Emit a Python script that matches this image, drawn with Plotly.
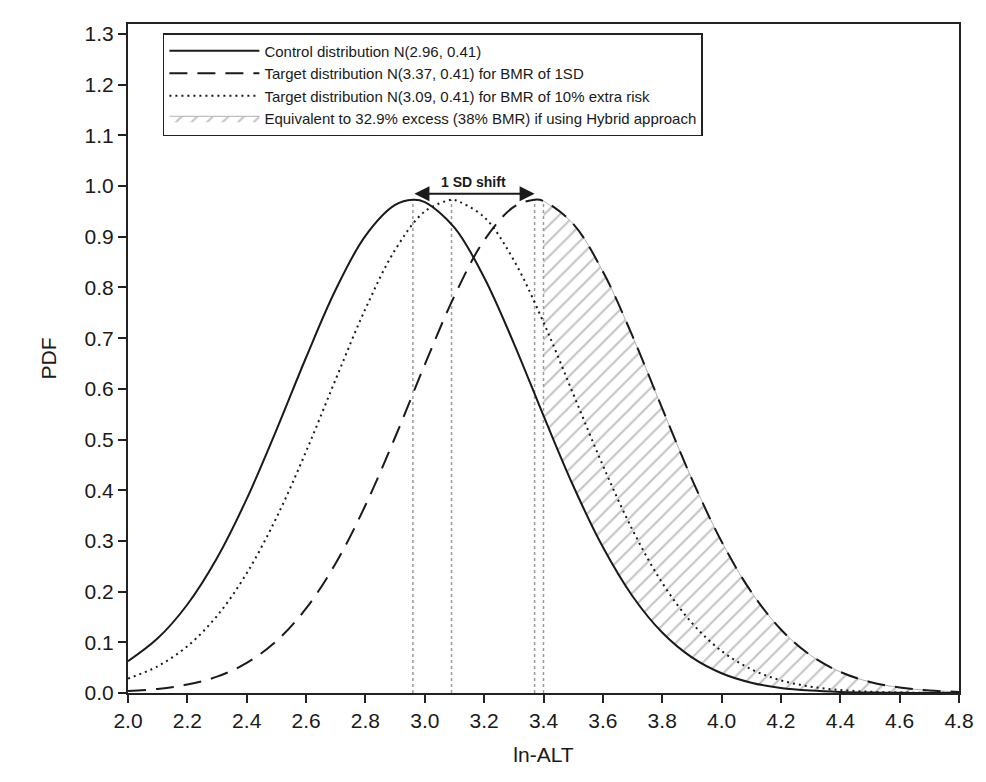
import plotly.graph_objects as go

# ---- data ----
x_vals = [2.0, 2.1, 2.2, 2.3, 2.4, 2.5, 2.6, 2.7, 2.8, 2.9, 3.0, 3.1, 3.2, 3.3, 3.4,
          3.5, 3.6, 3.7, 3.8, 3.9, 4.0, 4.1, 4.2, 4.3, 4.4, 4.5, 4.6, 4.7, 4.8]

control_pdf = [0.0627, 0.1078, 0.1746, 0.2663, 0.3828, 0.5186, 0.6618, 0.7959, 0.9018, 0.9628,
               0.9685, 0.9180, 0.8198, 0.6899, 0.5471, 0.4088, 0.2878, 0.1909, 0.1193, 0.0702,
               0.0390, 0.0204, 0.0100, 0.0047, 0.0020, 0.0008, 0.0003, 0.0001, 0.0000]

target_1sd_pdf = [0.0037, 0.0080, 0.0166, 0.0323, 0.0593, 0.1025, 0.1668, 0.2560, 0.3703, 0.5045,
                  0.6476, 0.7834, 0.8929, 0.9590, 0.9705, 0.9254, 0.8314, 0.7038, 0.5614, 0.4220,
                  0.2988, 0.1994, 0.1253, 0.0743, 0.0415, 0.0218, 0.0108, 0.0050, 0.0022]

target_10pct_pdf = [0.0284, 0.0528, 0.0923, 0.1521, 0.2362, 0.3456, 0.4764, 0.6190, 0.7578, 0.8741,
                    0.9500, 0.9728, 0.9388, 0.8535, 0.7312, 0.5902, 0.4489, 0.3217, 0.2173, 0.1383,
                    0.0829, 0.0468, 0.0249, 0.0125, 0.0059, 0.0026, 0.0011, 0.0004, 0.0002]

# peak positions (means) and peak heights
peak_x = {"control": 2.96, "target_1sd": 3.37, "target_10pct": 3.09}
peak_y = 0.9731

# vertical reference lines (x, top value)
ref_x = [2.96, 3.09, 3.37, 3.40]
ref_top = [0.9731, 0.9731, 0.9731, 0.9705]

hatch_start = 3.4

names = [
    "Control distribution N(2.96, 0.41)",
    "Target distribution N(3.37, 0.41) for BMR of 1SD",
    "Target distribution N(3.09, 0.41) for BMR of 10% extra risk",
    "Equivalent to 32.9% excess (38% BMR) if using Hybrid approach",
]

FONT = "Liberation Sans, Arial"
INK = "#1a1a1a"


def with_peak(xs, ys, px, py):
    pts = sorted(list(zip(xs, ys)) + [(px, py)])
    return [p[0] for p in pts], [p[1] for p in pts]


cx, cy = with_peak(x_vals, control_pdf, peak_x["control"], peak_y)
dx, dy = with_peak(x_vals, target_1sd_pdf, peak_x["target_1sd"], peak_y)
tx, ty = with_peak(x_vals, target_10pct_pdf, peak_x["target_10pct"], peak_y)

fig = go.Figure()

# hatched area between control and 1SD target, from x=3.4 onward
hx = [x for x in x_vals if x >= hatch_start - 1e-9]
h_lo = [y for x, y in zip(x_vals, control_pdf) if x >= hatch_start - 1e-9]
h_hi = [y for x, y in zip(x_vals, target_1sd_pdf) if x >= hatch_start - 1e-9]

fig.add_trace(go.Scatter(x=hx, y=h_lo, mode="lines", line=dict(width=0, shape="spline"),
                         showlegend=False, hoverinfo="skip"))
fig.add_trace(go.Scatter(x=hx, y=h_hi, mode="lines", fill="tonexty",
                         fillcolor="rgba(0,0,0,0)",
                         fillpattern=dict(shape="/", fgcolor="#8c8c8c", bgcolor="white",
                                          size=11, solidity=0.2),
                         line=dict(width=1, color="#b0b0b0", shape="spline"),
                         name=names[3], legendrank=4))

# vertical dotted reference lines
for xv, yt in zip(ref_x, ref_top):
    fig.add_trace(go.Scatter(x=[xv, xv], y=[0, yt], mode="lines",
                             line=dict(color="#9a9a9a", width=1.5, dash="dot"),
                             showlegend=False, hoverinfo="skip"))

fig.add_trace(go.Scatter(x=cx, y=cy, mode="lines", name=names[0], legendrank=1,
                         line=dict(color=INK, width=2, shape="spline")))
fig.add_trace(go.Scatter(x=dx, y=dy, mode="lines", name=names[1], legendrank=2,
                         line=dict(color=INK, width=2, shape="spline", dash="18px,10px")))
fig.add_trace(go.Scatter(x=tx, y=ty, mode="lines", name=names[2], legendrank=3,
                         line=dict(color=INK, width=2, shape="spline", dash="2px,4px")))

# 1 SD shift arrow
fig.add_annotation(x=peak_x["target_1sd"], y=0.985, ax=peak_x["control"], ay=0.985,
                   xref="x", yref="y", axref="x", ayref="y", text="", showarrow=True,
                   arrowside="end+start", arrowhead=2, startarrowhead=2,
                   arrowsize=1.5, startarrowsize=1.5, arrowwidth=2, arrowcolor=INK)
fig.add_annotation(x=(peak_x["control"] + peak_x["target_1sd"]) / 2, y=1.008,
                   xref="x", yref="y", text="<b>1 SD shift</b>", showarrow=False,
                   font=dict(size=14, color=INK, family=FONT))

axis_common = dict(showgrid=False, zeroline=False, showline=True, linewidth=2,
                   linecolor="#222222", mirror=True, ticks="outside", ticklen=8,
                   tickwidth=2, tickcolor="#222222",
                   tickfont=dict(size=21, color=INK, family=FONT))

fig.update_xaxes(range=[2.0, 4.8], tick0=2.0, dtick=0.2, tickformat=".1f",
                 title=dict(text="ln-ALT", standoff=16,
                            font=dict(size=21, color=INK, family=FONT)),
                 **axis_common)
fig.update_yaxes(range=[0, 1.3197], tick0=0, dtick=0.1, tickformat=".1f",
                 title=dict(text="PDF", standoff=22,
                            font=dict(size=21, color=INK, family=FONT)),
                 **axis_common)

fig.update_layout(
    width=986, height=782,
    margin=dict(l=128, r=20, t=24, b=89),
    paper_bgcolor="white", plot_bgcolor="white",
    font=dict(family=FONT, color=INK),
    legend=dict(x=0.042, y=0.9865, xanchor="left", yanchor="top",
                bgcolor="white", bordercolor="#222222", borderwidth=1.5,
                font=dict(size=15, color=INK, family=FONT),
                itemwidth=90, tracegroupgap=0, traceorder="normal"),
)

fig.write_html("out.html")
